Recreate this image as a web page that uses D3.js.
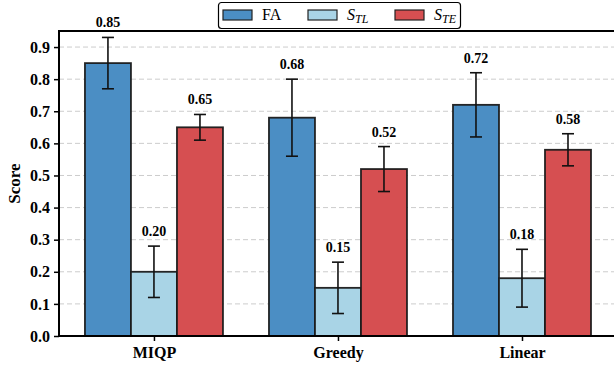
<!DOCTYPE html>
<html>
<head>
<meta charset="utf-8">
<script src="https://cdn.jsdelivr.net/npm/d3@7"></script>
<style>
  body { margin: 0; background: #fff; }
  svg { display: block; }
</style>
</head>
<body>
<svg id="chart" width="614" height="368"></svg>
<script>
const methods = ["MIQP", "Greedy", "Linear"];
const seriesNames = ["FA", "STL", "STE"];
const faValues = [0.85, 0.68, 0.72];
const stlValues = [0.20, 0.15, 0.18];
const steValues = [0.65, 0.52, 0.58];
const faErr = [0.08, 0.12, 0.10];
const stlErr = [0.08, 0.08, 0.09];
const steErr = [0.04, 0.07, 0.05];
const yTicks = [0.0, 0.1, 0.2, 0.3, 0.4, 0.5, 0.6, 0.7, 0.8, 0.9];

const colors = ["#4b8ec4", "#a9d4e6", "#d64f51"];
const FONT = "Liberation Serif";

const svg = d3.select("#chart");
const mLeft = 59, mRight = 614, mTop = 31, mBottom = 336;

// group index -> pixel (group spacing 1 unit)
const x = d3.scaleLinear().domain([-0.516, 2.5]).range([mLeft, mRight]);
const y = d3.scaleLinear().domain([0, 0.95]).range([mBottom, mTop]);
const barW = 0.25;

const rows = [];
methods.forEach((m, i) => {
    [faValues, stlValues, steValues].forEach((vals, s) => {
        const errs = [faErr, stlErr, steErr][s];
        rows.push({ method: m, g: i, s, value: vals[i], err: errs[i] });
    });
});

// grid
svg.append("g").selectAll("line")
    .data(yTicks.filter(t => t > 0))
    .enter().append("line")
    .attr("x1", mLeft).attr("x2", mRight)
    .attr("y1", d => y(d)).attr("y2", d => y(d))
    .attr("stroke", "#cccccc")
    .attr("stroke-width", 1)
    .attr("stroke-dasharray", "5,3");

// bars
svg.append("g").selectAll("rect")
    .data(rows)
    .enter().append("rect")
    .attr("x", d => x(d.g + (d.s - 1) * barW - barW / 2))
    .attr("width", x(barW) - x(0))
    .attr("y", d => y(d.value))
    .attr("height", d => y(0) - y(d.value))
    .attr("fill", d => colors[d.s])
    .attr("stroke", "#1a1a1a")
    .attr("stroke-opacity", 0.95)
    .attr("stroke-width", 1.8);

// error bars
const eb = svg.append("g").attr("stroke", "#111").attr("stroke-width", 1.6);
rows.forEach(d => {
    const cx = x(d.g + (d.s - 1) * barW);
    eb.append("line").attr("x1", cx).attr("x2", cx)
        .attr("y1", y(d.value - d.err)).attr("y2", y(d.value + d.err));
    [d.value - d.err, d.value + d.err].forEach(v => {
        eb.append("line").attr("x1", cx - 6).attr("x2", cx + 6)
            .attr("y1", y(v)).attr("y2", y(v));
    });
});

// value labels
svg.append("g").selectAll("text")
    .data(rows)
    .enter().append("text")
    .attr("x", d => x(d.g + (d.s - 1) * barW))
    .attr("y", d => y(d.value + d.err) - 10)
    .attr("text-anchor", "middle")
    .style("font-family", FONT)
    .attr("font-size", 14)
    .attr("font-weight", "bold")
    .text(d => d.value.toFixed(2));

// axes
const yAxis = svg.append("g")
    .attr("transform", `translate(${mLeft},0)`)
    .call(d3.axisLeft(y).tickValues(yTicks).tickFormat(d3.format(".1f")).tickSize(5).tickPadding(4));
const xAxis = svg.append("g")
    .attr("transform", `translate(0,${mBottom})`)
    .call(d3.axisBottom(x).tickValues([0, 1, 2]).tickFormat(i => methods[i]).tickSize(5).tickPadding(6));
[yAxis, xAxis].forEach(a => {
    a.select(".domain").remove();
    a.selectAll("line").attr("stroke", "#000").attr("stroke-width", 1.5);
    a.selectAll("text").attr("fill", "#000")
        .style("font-family", FONT)
        .attr("font-size", 16).attr("font-weight", "bold");
});

// spines
svg.append("path")
    .attr("d", `M${mRight},${mTop}H${mLeft}V${mBottom}H${mRight}`)
    .attr("fill", "none").attr("stroke", "#000").attr("stroke-width", 2);

// y label
svg.append("text")
    .attr("transform", `translate(20,${(mTop + mBottom) / 2}) rotate(-90)`)
    .attr("text-anchor", "middle")
    .style("font-family", FONT)
    .attr("font-size", 17).attr("font-weight", "bold")
    .text("Score");

// legend
const lg = svg.append("g");
lg.append("rect").attr("x", 218.5).attr("y", 2.5).attr("width", 242).attr("height", 26)
    .attr("rx", 3).attr("fill", "#fff").attr("stroke", "#000").attr("stroke-width", 1.2);
const legX = [223, 308, 395];
seriesNames.forEach((n, i) => {
    lg.append("rect").attr("x", legX[i]).attr("y", 10).attr("width", 29).attr("height", 10)
        .attr("fill", colors[i]).attr("stroke", "#222").attr("stroke-width", 1.2);
    const t = lg.append("text").attr("x", legX[i] + 39).attr("y", 20)
        .style("font-family", FONT).attr("font-size", 16);
    if (n === "FA") {
        t.text("FA");
    } else {
        t.append("tspan").attr("font-style", "italic").text("S");
        t.append("tspan").attr("font-style", "italic").attr("font-size", 12)
            .attr("dy", 3).text(n.slice(1));
    }
});
</script>
</body>
</html>
